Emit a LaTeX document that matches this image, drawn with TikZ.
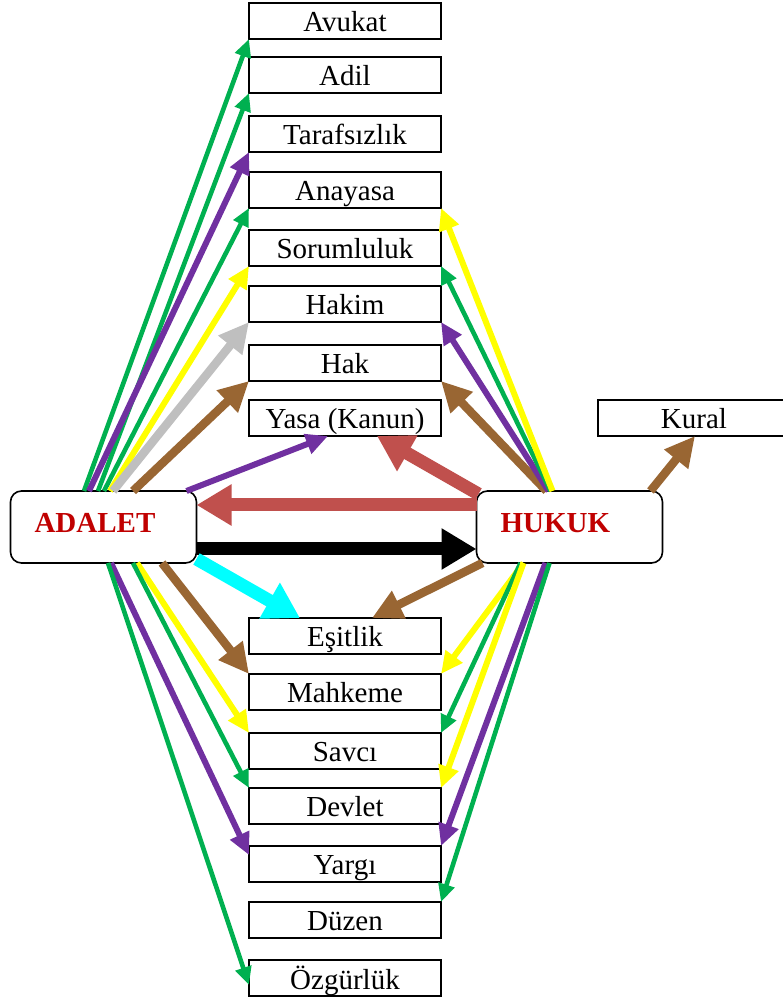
\documentclass[tikz,border=0pt]{standalone}
\usepackage{fontspec}
\setmainfont{Liberation Serif}
\usetikzlibrary{positioning,arrows.meta}
\definecolor{grn}{HTML}{00B050}
\definecolor{prp}{HTML}{7030A0}
\definecolor{ylw}{HTML}{FFFF00}
\definecolor{gry}{HTML}{BFBFBF}
\definecolor{brn}{HTML}{996633}
\definecolor{rdd}{HTML}{C0504D}
\definecolor{cyn}{HTML}{00FFFF}
\definecolor{ttl}{HTML}{C00000}

\begin{document}
\begin{tikzpicture}[x=1pt,y=1pt,
  box/.style={draw, line width=1.6pt, minimum width=192pt, minimum height=36pt, inner sep=0pt, outer sep=0pt,
    text height=22pt, text depth=0pt, font=\fontsize{29}{34}\selectfont},
  core/.style={draw, fill=white, line width=1.6pt, rounded corners=11pt, minimum width=186pt, minimum height=72pt,
    text width=138pt, align=left, inner xsep=24pt, inner ysep=0pt, outer sep=0pt,
    text height=20pt, text depth=8pt, text=ttl, font=\bfseries\fontsize{29}{34}\selectfont},
  slimarrow/.style={line width=4.6pt, -{Triangle[length=18pt,width=16pt]}},
  midarrow/.style={line width=6pt, -{Triangle[length=22pt,width=20pt]}},
  heavyarrow/.style={line width=8.5pt, -{Triangle[length=30pt,width=29pt]}},
  bigarrow/.style={line width=13pt, -{Triangle[length=35pt,width=39pt]}}]
\useasboundingbox (0,0) rectangle (783,998);
% upper column
\node(Avukat)      [box] at (345,977) {Avukat};
\node(Adil)        [box, below=18pt of Avukat] {Adil};
\node(Tarafsizlik) [box, below=23pt of Adil] {Tarafsızlık};
\node(Anayasa)     [box, below=20pt of Tarafsizlik] {Anayasa};
\node(Sorumluluk)  [box, below=22pt of Anayasa] {Sorumluluk};
\node(Hakim)       [box, below=20pt of Sorumluluk] {Hakim};
\node(Hak)         [box, below=23pt of Hakim] {Hak};
\node(Yasa)        [box, below=19pt of Hak] {Yasa (Kanun)};
\node(Kural)       [box, right=157pt of Yasa] {Kural};
% the two main terms
\node(Adalet)      [core] at (103.5,471) {ADALET};
\node(Hukuk)       [core, right=280pt of Adalet] {HUKUK};
% lower column
\node(Esitlik)     [box, below=182pt of Yasa] {Eşitlik};
\node(Mahkeme)     [box, below=20pt of Esitlik] {Mahkeme};
\node(Savci)       [box, below=23pt of Mahkeme] {Savcı};
\node(Devlet)      [box, below=19pt of Savci] {Devlet};
\node(Yargi)       [box, below=22pt of Devlet] {Yargı};
\node(Duzen)       [box, below=20pt of Yargi] {Düzen};
\node(Ozgurluk)    [box, below=22pt of Duzen] {Özgürlük};
% ADALET upwards
\draw[slimarrow, grn] ([xshift=-19.5pt]Adalet.north) -- (Avukat.south west);
\draw[slimarrow, grn] ([xshift=-5.5pt]Adalet.north) -- (Adil.south west);
\draw[midarrow, prp] ([xshift=-14.5pt]Adalet.north) -- (Tarafsizlik.south west);
\draw[slimarrow, grn] ([xshift=0.5pt]Adalet.north) -- (Anayasa.south west);
\draw[midarrow, ylw] ([xshift=6.5pt]Adalet.north) -- (Sorumluluk.south west);
\draw[heavyarrow, gry] ([xshift=9.5pt]Adalet.north) -- (Hakim.south west);
\draw[heavyarrow, brn] ([xshift=29.5pt]Adalet.north) -- (Hak.south west);
\draw[midarrow, prp] ([xshift=83pt]Adalet.north) -- ([xshift=-17pt]Yasa.south);
% HUKUK upwards
\draw[heavyarrow, brn] ([xshift=-23pt]Hukuk.north) -- (Hak.south east);
\draw[midarrow, prp] ([xshift=-21pt]Hukuk.north) -- (Hakim.south east);
\draw[slimarrow, grn] ([xshift=-19pt]Hukuk.north) -- (Sorumluluk.south east);
\draw[midarrow, ylw] ([xshift=-17pt]Hukuk.north) -- (Anayasa.south east);
\draw[heavyarrow, brn] ([xshift=81pt]Hukuk.north) -- ([xshift=1pt]Kural.south);
\draw[bigarrow, rdd] ([xshift=2pt,yshift=-3pt]Hukuk.north west) -- ([xshift=32pt]Yasa.south);
% between ADALET and HUKUK
\draw[bigarrow, rdd] ([yshift=22pt]Hukuk.west) -- ([yshift=22pt]Adalet.east);
\draw[bigarrow, black] ([yshift=-22pt]Adalet.east) -- ([yshift=-22pt]Hukuk.west);
% downwards
\draw[bigarrow, cyn] ([yshift=4pt]Adalet.south east) -- ([xshift=-45pt]Esitlik.north);
\draw[heavyarrow, brn] ([xshift=6pt]Hukuk.south west) -- ([xshift=27pt]Esitlik.north);
\draw[heavyarrow, brn] ([xshift=58.5pt]Adalet.south) -- (Mahkeme.north west);
\draw[midarrow, ylw] ([xshift=33.5pt]Adalet.south) -- (Savci.north west);
\draw[slimarrow, grn] ([xshift=29.5pt]Adalet.south) -- (Devlet.north west);
\draw[midarrow, prp] ([xshift=7.5pt]Adalet.south) -- ([yshift=-9pt]Yargi.north west);
\draw[slimarrow, grn] ([xshift=4.5pt]Adalet.south) -- ([yshift=-7pt]Ozgurluk.west);
\draw[midarrow, ylw] ([xshift=-46pt]Hukuk.south) -- (Mahkeme.north east);
\draw[slimarrow, grn] ([xshift=-49pt]Hukuk.south) -- (Savci.north east);
\draw[midarrow, ylw] ([xshift=-46pt]Hukuk.south) -- (Devlet.north east);
\draw[midarrow, prp] ([xshift=-24pt]Hukuk.south) -- (Yargi.north east);
\draw[slimarrow, grn] ([xshift=-20pt]Hukuk.south) -- (Duzen.north east);
\end{tikzpicture}
\end{document}
